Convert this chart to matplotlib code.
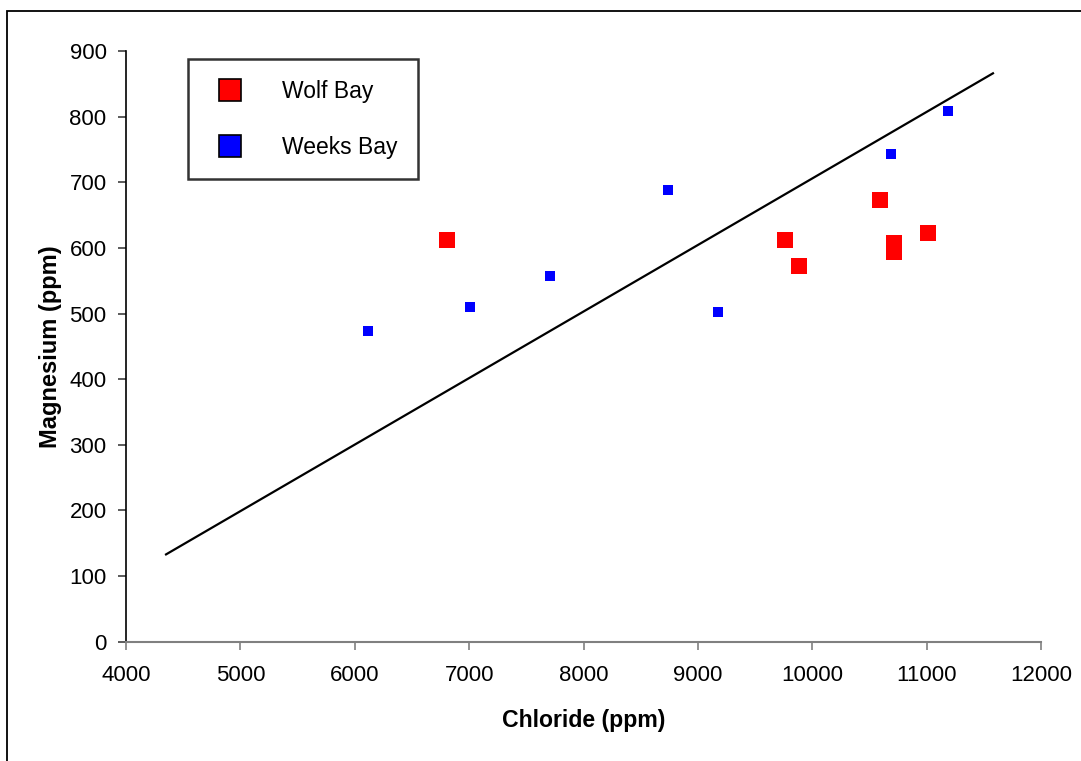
import matplotlib
matplotlib.use("Agg")
import matplotlib.pyplot as plt
from matplotlib.lines import Line2D
from matplotlib.patches import Rectangle

plt.rcParams['font.family'] = ['Liberation Sans', 'DejaVu Sans']

# data
wolf_cl = [6807, 9762, 9884, 10593, 10715, 10715, 11012]
wolf_mg = [612, 612, 572, 673, 607, 594, 622]

weeks_cl = [6116, 7008, 7707, 8739, 9176, 10689, 11187]
weeks_mg = [473, 510, 557, 688, 502, 743, 808]

line_cl = [4350, 11580]
line_mg = [133, 866]

x_ticks = [4000, 5000, 6000, 7000, 8000, 9000, 10000, 11000, 12000]
y_ticks = [0, 100, 200, 300, 400, 500, 600, 700, 800, 900]

fig = plt.figure(figsize=(10.81, 7.61), dpi=100)
ax = fig.add_axes([126/1081, 1-641.7/761, (1041-126)/1081, (641.7-51)/761])

ax.plot(line_cl, line_mg, color='black', lw=1.6, zorder=2)
ax.scatter(wolf_cl, wolf_mg, marker='s', s=132, color='#ff0000', linewidths=0, zorder=3)
ax.scatter(weeks_cl, weeks_mg, marker='s', s=55, color='#0000ff', linewidths=0, zorder=3)

ax.set_xlim(4000, 12000)
ax.set_ylim(0, 900)
ax.set_xticks(x_ticks)
ax.set_yticks(y_ticks)
ax.tick_params(axis='both', labelsize=16, direction='out', length=6, width=1.2)
ax.tick_params(axis='x', pad=11, color='#808080')
ax.tick_params(axis='y', pad=8, color='#404040')

for s in ['top', 'right']:
    ax.spines[s].set_visible(False)
ax.spines['left'].set_linewidth(1.2)
ax.spines['left'].set_color('black')
ax.spines['bottom'].set_linewidth(1.5)
ax.spines['bottom'].set_color('#808080')

ax.set_xlabel("Chloride (ppm)", fontsize=16.6, fontweight='bold', labelpad=16)
ax.set_ylabel("Magnesium (ppm)", fontsize=17, fontweight='bold', labelpad=5)

handles = [
    Line2D([], [], ls='none', marker='s', markersize=16.5, markerfacecolor='#ff0000',
           markeredgecolor='black', markeredgewidth=1.2, label='Wolf Bay'),
    Line2D([], [], ls='none', marker='s', markersize=16.5, markerfacecolor='#0000ff',
           markeredgecolor='black', markeredgewidth=1.2, label='Weeks Bay'),
]
leg = fig.legend(handles=handles, loc='upper left', bbox_to_anchor=(188/1081, 1-59/761),
                 borderaxespad=0, fontsize=16.5, frameon=True, fancybox=False,
                 borderpad=0.9, handletextpad=1.3, labelspacing=1.45, handlelength=1.9)
leg.get_frame().set_edgecolor('black')
leg.get_frame().set_linewidth(1.8)

# outer chart frame
fig.patches.append(Rectangle((7/1081, -0.05), 1.1, 1.05 - 11/761, transform=fig.transFigure,
                             fill=False, edgecolor='black', lw=1.3))

fig.savefig("out.png", dpi=100)
